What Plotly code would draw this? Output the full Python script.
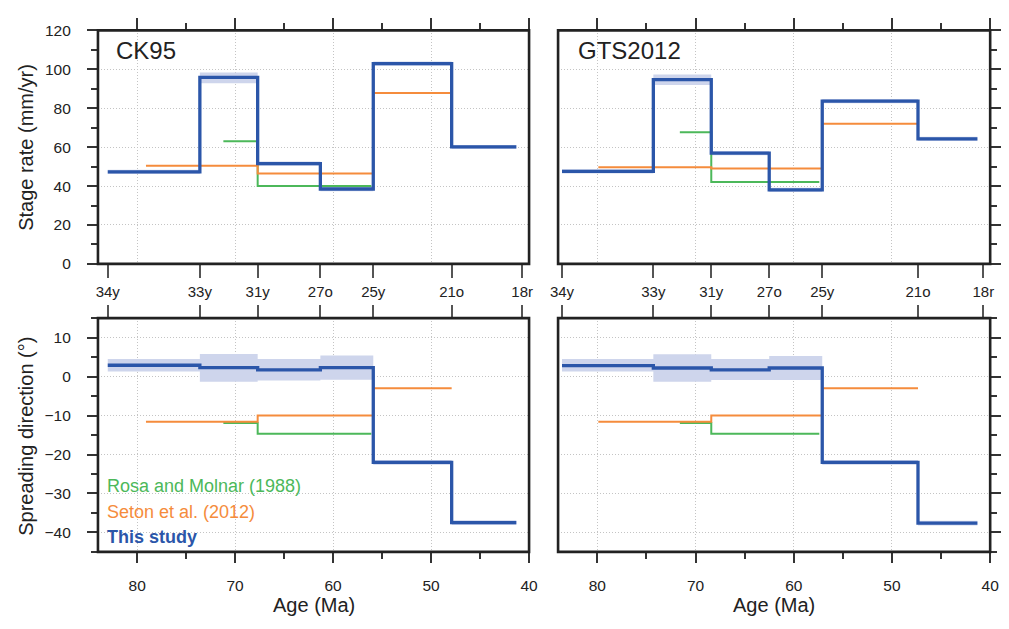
import plotly.graph_objects as go

# ---------------- data ----------------
chron_labels = ["34y", "33y", "31y", "27o", "25y", "21o", "18r"]
chron_ages_ck95 = [83.0, 73.6, 67.7, 61.3, 55.9, 47.9, 40.7]
chron_ages_gts = [83.6, 74.3, 68.4, 62.5, 57.1, 47.35, 40.7]

# This study (stage boundaries, Ma)
study_age_ck95 = [83.0, 73.6, 67.7, 61.3, 55.9, 47.9, 41.3]
study_age_gts = [83.6, 74.3, 68.4, 62.5, 57.1, 47.35, 41.3]

study_rate_ck95 = [47.3, 95.9, 51.5, 38.5, 102.9, 60.1]
study_rate_ck95_lo = [46.2, 92.9, 50.4, 37.4, 101.8, 59.1]
study_rate_ck95_hi = [48.4, 98.4, 52.6, 39.6, 104.0, 61.1]
study_rate_gts = [47.6, 94.7, 56.9, 38.1, 83.7, 64.3]
study_rate_gts_lo = [46.5, 91.9, 55.8, 37.0, 82.6, 63.2]
study_rate_gts_hi = [48.7, 97.3, 58.0, 39.2, 84.8, 65.4]

study_dir_ck95 = [2.9, 2.3, 1.7, 2.3, -22.0, -37.5]
study_dir_ck95_lo = [1.3, -1.3, -1.0, -0.8, -22.6, -38.1]
study_dir_ck95_hi = [4.5, 5.8, 4.5, 5.4, -21.4, -36.9]
study_dir_gts = [2.8, 2.2, 1.7, 2.2, -22.0, -37.6]
study_dir_gts_lo = [1.3, -1.3, -0.9, -0.9, -22.6, -38.2]
study_dir_gts_hi = [4.5, 5.7, 4.5, 5.3, -21.4, -37.0]

# Seton et al. (2012)
seton_age_ck95 = [79.1, 67.7, 55.9, 47.9]
seton_age_gts = [79.9, 68.4, 57.1, 47.35]
seton_rate_ck95 = [50.5, 46.5, 87.8]
seton_rate_gts = [49.7, 49.1, 72.0]
seton_dir = [-11.6, -10.0, -3.0]

# Rosa and Molnar (1988)
rosa_age_ck95 = [71.2, 67.7, 56.1]
rosa_age_gts = [71.6, 68.4, 57.4]
rosa_rate_ck95 = [63.1, 40.0]
rosa_rate_gts = [67.7, 42.1]
rosa_dir = [-11.9, -14.7]

# ---------------- style / layout ----------------
W, H = 1009, 629
FONT = "Liberation Sans, Arial, Helvetica, sans-serif"
BLUE = "#2b56a9"
ORANGE = "#f58c3c"
GREEN = "#4cb85a"
BAND = "rgb(206,213,236)"
TXT = "#222222"
GRID = "#c4c4c4"
GRIDDASH = "1px,2px"

def px_x(a, b):
    return [a / W, b / W]

def px_y(top, bottom):
    return [1 - bottom / H, 1 - top / H]

XL = px_x(91.5, 530.0)
XR = px_x(559.5, 999.0)
YT = px_y(22.0, 262.0)
YB = px_y(317.7, 558.0)
XRANGE = [84, 40]


def step(v):
    return list(v) + [v[-1]]


fig = go.Figure()


def add_panel(xa, ya, ages, vals, lo, hi, s_age, s_vals, r_age, r_vals):
    fig.add_trace(go.Scatter(x=ages, y=step(lo), xaxis=xa, yaxis=ya, mode="lines",
                             line=dict(width=0, shape="hv"), hoverinfo="skip", showlegend=False))
    fig.add_trace(go.Scatter(x=ages, y=step(hi), xaxis=xa, yaxis=ya, mode="lines",
                             line=dict(width=0, shape="hv"), fill="tonexty", fillcolor=BAND,
                             hoverinfo="skip", showlegend=False))
    fig.add_trace(go.Scatter(x=r_age, y=step(r_vals), xaxis=xa, yaxis=ya, mode="lines",
                             line=dict(color=GREEN, width=2, shape="hv"), showlegend=False))
    fig.add_trace(go.Scatter(x=s_age, y=step(s_vals), xaxis=xa, yaxis=ya, mode="lines",
                             line=dict(color=ORANGE, width=2, shape="hv"), showlegend=False))
    fig.add_trace(go.Scatter(x=ages, y=step(vals), xaxis=xa, yaxis=ya, mode="lines",
                             line=dict(color=BLUE, width=3.3, shape="hv"), showlegend=False))


add_panel("x", "y", study_age_ck95, study_rate_ck95, study_rate_ck95_lo, study_rate_ck95_hi,
          seton_age_ck95, seton_rate_ck95, rosa_age_ck95, rosa_rate_ck95)
add_panel("x2", "y2", study_age_gts, study_rate_gts, study_rate_gts_lo, study_rate_gts_hi,
          seton_age_gts, seton_rate_gts, rosa_age_gts, rosa_rate_gts)
add_panel("x3", "y3", study_age_ck95, study_dir_ck95, study_dir_ck95_lo, study_dir_ck95_hi,
          seton_age_ck95, seton_dir, rosa_age_ck95, rosa_dir)
add_panel("x4", "y4", study_age_gts, study_dir_gts, study_dir_gts_lo, study_dir_gts_hi,
          seton_age_gts, seton_dir, rosa_age_gts, rosa_dir)

# invisible anchors so the chron overlay axes get drawn
for xa, ya, ages in [("x5", "y", chron_ages_ck95), ("x6", "y2", chron_ages_gts),
                     ("x7", "y3", chron_ages_ck95), ("x8", "y4", chron_ages_gts)]:
    fig.add_trace(go.Scatter(x=ages, y=[None] * len(ages), xaxis=xa, yaxis=ya, mode="markers",
                             marker=dict(opacity=0), hoverinfo="skip", showlegend=False))

tickfont = dict(family=FONT, size=15.5, color=TXT)


def age_axis(domain, anchor, side, labels):
    return dict(domain=domain, anchor=anchor, side=side, range=XRANGE, autorange=False,
                tick0=0, dtick=10, ticks="outside", ticklen=11 if side == "top" else 10,
                tickwidth=1.5, tickcolor="#333", showticklabels=labels, tickfont=tickfont,
                ticklabelstandoff=9,
                minor=dict(dtick=5, tick0=0, ticks="outside", ticklen=6, tickwidth=1.5,
                           tickcolor="#333", showgrid=False),
                showgrid=True, gridcolor=GRID, griddash=GRIDDASH, gridwidth=1,
                zeroline=False, showline=False, fixedrange=True)


def val_axis(domain, anchor, side, labels, rng, dtick, mdtick):
    return dict(domain=domain, anchor=anchor, side=side, range=rng, autorange=False,
                tick0=0, dtick=dtick, ticks="outside", ticklen=10, tickwidth=1.5,
                tickcolor="#333", showticklabels=labels, tickfont=tickfont,
                ticklabelstandoff=13,
                minor=dict(dtick=mdtick, tick0=0, ticks="outside", ticklen=6, tickwidth=1.5,
                           tickcolor="#333", showgrid=False),
                showgrid=True, gridcolor=GRID, griddash=GRIDDASH, gridwidth=1,
                zeroline=False, showline=False, fixedrange=True)


def chron_axis(over, anchor, side, ages, labels):
    return dict(overlaying=over, anchor=anchor, side=side, range=XRANGE, autorange=False,
                tickmode="array", tickvals=ages, ticktext=chron_labels,
                ticks="outside", ticklen=13 if side == "bottom" else 12, tickwidth=1.5,
                tickcolor="#555", showticklabels=labels,
                tickfont=dict(family=FONT, size=15, color=TXT),
                ticklabelstandoff=1,
                showgrid=False, zeroline=False, showline=False, fixedrange=True)


fig.update_layout(
    width=W, height=H, autosize=False,
    margin=dict(l=0, r=0, t=0, b=0, pad=0),
    paper_bgcolor="white", plot_bgcolor="white",
    showlegend=False,
    font=dict(family=FONT, color=TXT),
    xaxis=age_axis(XL, "y", "top", False),
    xaxis2=age_axis(XR, "y2", "top", False),
    xaxis3=age_axis(XL, "y3", "bottom", True),
    xaxis4=age_axis(XR, "y4", "bottom", True),
    yaxis=val_axis(YT, "x", "left", True, [0, 120], 20, 10),
    yaxis2=val_axis(YT, "x2", "right", False, [0, 120], 20, 10),
    yaxis3=val_axis(YB, "x3", "left", True, [-45, 15], 10, 5),
    yaxis4=val_axis(YB, "x4", "right", False, [-45, 15], 10, 5),
    xaxis5=chron_axis("x", "y", "bottom", chron_ages_ck95, True),
    xaxis6=chron_axis("x2", "y2", "bottom", chron_ages_gts, True),
    xaxis7=chron_axis("x3", "y3", "top", chron_ages_ck95, False),
    xaxis8=chron_axis("x4", "y4", "top", chron_ages_gts, False),
)

# frames
for xr, yr in [("x", "y"), ("x2", "y2"), ("x3", "y3"), ("x4", "y4")]:
    fig.add_shape(type="rect", xref=f"{xr} domain", yref=f"{yr} domain",
                  x0=0, x1=1, y0=0, y1=1, line=dict(color="#222", width=2.6),
                  fillcolor="rgba(0,0,0,0)", layer="above")

ann = []
# panel titles
ann.append(dict(text="CK95", x=108 / W, y=1 - 43 / H, xref="paper", yref="paper",
                xanchor="left", yanchor="middle", showarrow=False,
                font=dict(family=FONT, size=24, color=TXT)))
ann.append(dict(text="GTS2012", x=578 / W, y=1 - 43 / H, xref="paper", yref="paper",
                xanchor="left", yanchor="middle", showarrow=False,
                font=dict(family=FONT, size=24, color=TXT)))
# axis titles
ann.append(dict(text="Stage rate (mm/yr)", x=18 / W, y=1 - 142 / H, xref="paper", yref="paper",
                xanchor="center", yanchor="middle", textangle=-90, showarrow=False,
                font=dict(family=FONT, size=20, color=TXT)))
ann.append(dict(text="Spreading direction (°)", x=18 / W, y=1 - 439 / H, xref="paper", yref="paper",
                xanchor="center", yanchor="middle", textangle=-90, showarrow=False,
                font=dict(family=FONT, size=20, color=TXT)))
ann.append(dict(text="Age (Ma)", x=310.75 / W, y=1 - 613 / H, xref="paper", yref="paper",
                xanchor="center", yanchor="middle", showarrow=False,
                font=dict(family=FONT, size=20, color=TXT)))
ann.append(dict(text="Age (Ma)", x=779.25 / W, y=1 - 613 / H, xref="paper", yref="paper",
                xanchor="center", yanchor="middle", showarrow=False,
                font=dict(family=FONT, size=20, color=TXT)))
# legend text
for txt, col, ypx in [("Rosa and Molnar (1988)", GREEN, 490),
                      ("Seton et al. (2012)", ORANGE, 516.5),
                      ("<b>This study</b>", BLUE, 543)]:
    ann.append(dict(text=txt, x=99 / W, y=1 - ypx / H, xref="paper", yref="paper",
                    xanchor="left", yanchor="middle", showarrow=False,
                    font=dict(family=FONT, size=18, color=col)))
fig.update_layout(annotations=ann)

fig.write_html("out.html")
